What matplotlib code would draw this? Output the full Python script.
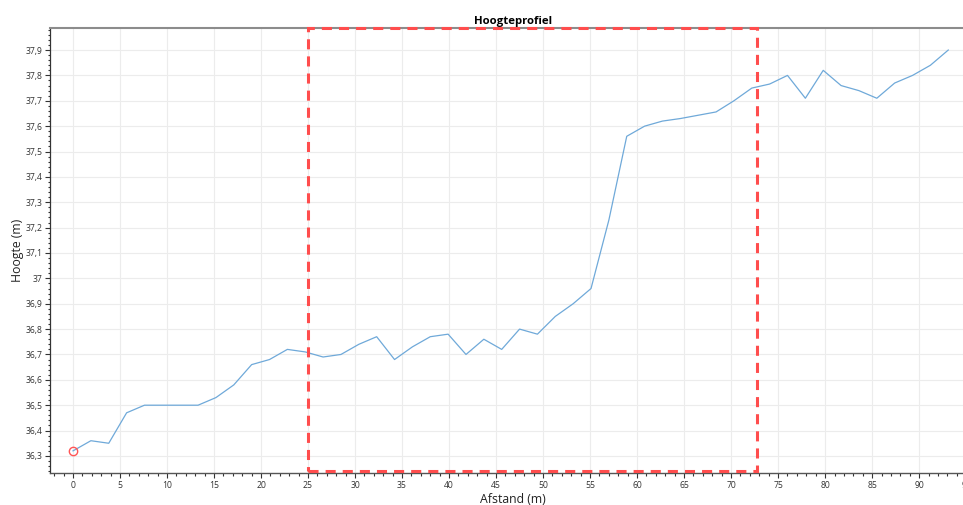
import matplotlib
matplotlib.use("Agg")
import matplotlib.pyplot as plt
from matplotlib.patches import Rectangle
from matplotlib.ticker import MultipleLocator, FuncFormatter

# afstand langs het profiel (m) en hoogte (m)
afstand = [0.0, 1.9, 3.8, 5.7, 7.6, 9.5, 11.4, 13.3, 15.2, 17.1,
           19.0, 20.9, 22.8, 24.7, 26.6, 28.5, 30.4, 32.3, 34.2, 36.1,
           38.0, 39.9, 41.8, 43.7, 45.6, 47.5, 49.4, 51.3, 53.2, 55.1,
           57.0, 58.9, 60.8, 62.7, 64.6, 66.5, 68.4, 70.3, 72.2, 74.1,
           76.0, 77.9, 79.8, 81.7, 83.6, 85.5, 87.4, 89.3, 91.2, 93.1]
hoogte = [36.32, 36.36, 36.35, 36.47, 36.50, 36.50, 36.50, 36.50, 36.53, 36.58,
          36.66, 36.68, 36.72, 36.71, 36.69, 36.70, 36.74, 36.77, 36.68, 36.73,
          36.77, 36.78, 36.70, 36.76, 36.72, 36.80, 36.78, 36.85, 36.90, 36.96,
          37.23, 37.56, 37.60, 37.62, 37.63, 37.643, 37.656, 37.70, 37.75, 37.766,
          37.80, 37.71, 37.82, 37.76, 37.74, 37.71, 37.77, 37.80, 37.84, 37.90]

# geselecteerd bereik (rode kader)
selectie = (25.0, 72.75)

plt.rcParams['font.family'] = ['Open Sans', 'DejaVu Sans']

fig = plt.figure(figsize=(9.63, 5.05), dpi=100)
ax = fig.add_axes([0.0524, 0.064, 0.9606, 0.8806])

ax.plot(afstand, hoogte, color='#6fa9d9', lw=0.9, zorder=3)
ax.plot(afstand[0], hoogte[0], 'o', ms=6, mfc='none', mec='#ff5555', mew=1.0, zorder=4)

ax.set_xlim(-2.4, 96)
ax.set_ylim(36.234, 37.987)

ax.xaxis.set_major_locator(MultipleLocator(5))
ax.xaxis.set_minor_locator(MultipleLocator(1))
ax.yaxis.set_major_locator(MultipleLocator(0.1))
ax.yaxis.set_minor_locator(MultipleLocator(0.02))

fmt = FuncFormatter(lambda v, pos: f"{round(v, 2):g}".replace('.', ','))
ax.xaxis.set_major_formatter(fmt)
ax.yaxis.set_major_formatter(fmt)

ax.grid(True, which='major', color='#ececec', lw=0.8, zorder=0)
ax.tick_params(which='major', length=3.5, width=0.8, color='#333333',
               labelsize=6.2, labelcolor='#333333', pad=2.5)
ax.tick_params(which='minor', length=1.8, width=0.8, color='#333333')

ax.spines['right'].set_visible(False)
ax.spines['top'].set_color('#8c8c8c')
ax.spines['top'].set_linewidth(1.5)
ax.spines['left'].set_color('#333333')
ax.spines['bottom'].set_color('#555555')
ax.spines['left'].set_linewidth(0.9)
ax.spines['bottom'].set_linewidth(1.0)

rect = Rectangle((selectie[0], 0.004), selectie[1] - selectie[0], 0.996,
                 transform=ax.get_xaxis_transform(), fill=False,
                 ec='#ff4d4d', lw=2.2, ls=(0, (3.3, 2.3)), clip_on=False, zorder=5)
ax.add_patch(rect)

ax.set_title('Hoogteprofiel', fontsize=8.2, fontweight='bold', pad=3)
ax.set_xlabel('Afstand (m)', fontsize=8.8, color='#222222', labelpad=2)
ax.set_ylabel('Hoogte (m)', fontsize=8.8, color='#222222')
ax.yaxis.set_label_coords(-0.029, 0.5)

fig.savefig('out.png', dpi=100)
